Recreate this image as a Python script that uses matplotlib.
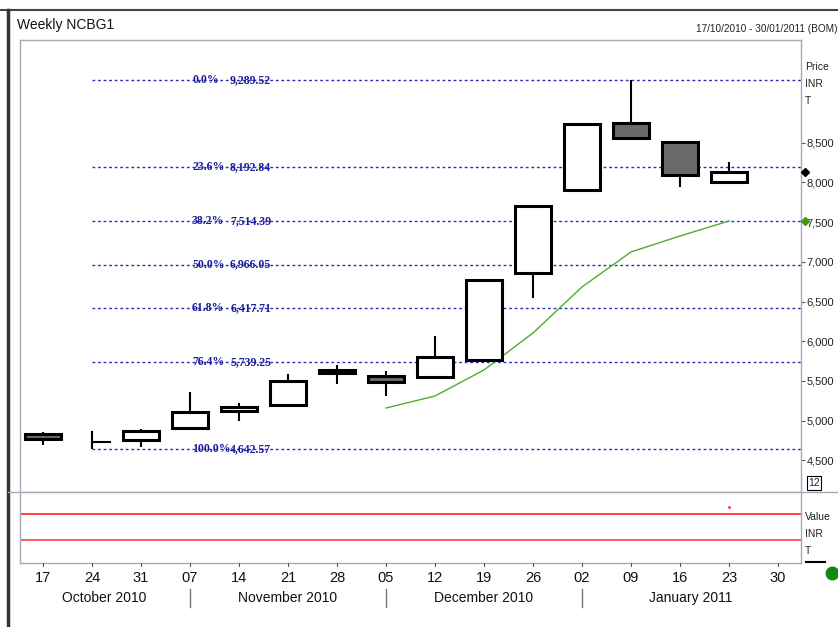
import matplotlib
matplotlib.use('Agg')
import matplotlib.pyplot as plt
from matplotlib.patches import Rectangle
from matplotlib.lines import Line2D

# ---------------- data ----------------
week_labels = ['17', '24', '31', '07', '14', '21', '28', '05', '12', '19', '26', '02', '09', '16', '23', '30']
month_labels = ['October 2010', 'November 2010', 'December 2010', 'January 2011']
month_pos = [1.245, 5.0, 9.0, 13.22]
month_sep = [3, 7, 11]

opens = [4832, 4731, 4756, 4907, 5121, 5197, 5600, 5562, 5549, 5763, 6859, 7904, 8748, 8509, 8005]
highs = [4857, 4857, 4894, 5361, 5222, 5587, 5701, 5625, 6066, 6771, 7703, 8735, 9289.52, 8509, 8257]
lows = [4693, 4655, 4668, 4907, 4995, 5197, 5461, 5310, 5549, 5763, 6544, 7904, 8547, 7942, 8005]
closes = [4769, 4731, 4869, 5109, 5172, 5499, 5637, 5486, 5801, 6771, 7703, 8735, 8559, 8093, 8131]

ma_x = [7, 8, 9, 10, 11, 12, 13, 14]
ma_vals = [5159, 5310, 5638, 6104, 6683, 7124, 7325, 7514]

fib_pct = ['0.0%', '23.6%', '38.2%', '50.0%', '61.8%', '76.4%', '100.0%']
fib_vals = [9289.52, 8192.84, 7514.39, 6966.05, 6417.71, 5739.25, 4642.57]

price_ticks = [4500, 5000, 5500, 6000, 6500, 7000, 7500, 8000, 8500]

# ---------------- figure ----------------
W, H = 838, 627
fig = plt.figure(figsize=(W / 100, H / 100), dpi=100)
fig.patch.set_facecolor('white')

FONT = ['Liberation Sans Narrow', 'Liberation Sans', 'DejaVu Sans']
SERIF = ['Liberation Serif', 'DejaVu Serif']

def fx(px):
    return px / W

def fy(py):
    return 1 - py / H

L, R = 20, 801
T1, B1 = 40, 492
B2 = 563
ax = fig.add_axes([fx(L), fy(B1), fx(R) - fx(L), fy(T1) - fy(B1)])
ax2 = fig.add_axes([fx(L), fy(B2), fx(R) - fx(L), fy(B1) - fy(B2)])

xmin, xmax = (L - 43) / 49.0, (R - 43) / 49.0
spine_c = '#a8a8b8'
for a in (ax, ax2):
    a.set_xlim(xmin, xmax)
    for s in a.spines.values():
        s.set_color(spine_c)
        s.set_linewidth(1)
    a.set_xticks([])

# price scale
ppx = 12.593
ax.set_ylim(9289.52 - (B1 - 80) * ppx, 9289.52 + (80 - T1) * ppx)
ax.yaxis.tick_right()
ax.set_yticks(price_ticks)
ax.set_yticklabels([f'{v:,}' for v in price_ticks], fontfamily=FONT, fontsize=8)
ax.tick_params(axis='y', length=3, width=0.8, color='#555555', pad=1, labelcolor='#222222')

# fib lines
fib_c = '#2e2eb0'
for p, v in zip(fib_pct, fib_vals):
    ax.plot([1, xmax], [v, v], color=fib_c, lw=1, ls=(0, (2, 2)), zorder=1)
    ax.text((192 - 43) / 49.0, v, p, color='#1c1c9c', fontfamily=SERIF, fontweight='bold',
            fontsize=8.5, va='center', ha='left', zorder=2)
    ax.text((271 - 43) / 49.0, v, f'{v:,.2f}', color='#1c1c9c', fontfamily=SERIF, fontweight='bold',
            fontsize=8.5, va='center', ha='right', zorder=2)

# moving average
ax.plot(ma_x, ma_vals, color='#4caf28', lw=1, zorder=3)

# candles
w = 0.74
for i, (o, h, l, c) in enumerate(zip(opens, highs, lows, closes)):
    top, bot = max(o, c), min(o, c)
    if o == c:
        ax.plot([i, i], [l, h], color='black', lw=1.5, zorder=4)
        ax.plot([i, i + w / 2], [o, o], color='black', lw=1.5, zorder=4)
        continue
    ax.plot([i, i], [top, h], color='black', lw=1.5, zorder=4, solid_capstyle='butt')
    ax.plot([i, i], [l, bot], color='black', lw=1.5, zorder=4, solid_capstyle='butt')
    fc = 'white' if c > o else '#6a6a6a'
    ax.add_patch(Rectangle((i - w / 2, bot), w, top - bot, facecolor=fc, edgecolor='black',
                           lw=2.2, zorder=5, joinstyle='miter'))

# diamonds on right axis
dx = (805 - 43) / 49.0
ax.plot([dx], [closes[-1]], marker='D', ms=4.5, color='black', clip_on=False, zorder=6)
ax.plot([dx], [ma_vals[-1]], marker='D', ms=4.5, color='#3a9a10', clip_on=False, zorder=6)

# lower panel
ax2.set_ylim(0, 1)
ax2.set_yticks([])
ax2.axhline((B2 - 514) / (B2 - B1), color='#ff2020', lw=1.2)
ax2.axhline((B2 - 540) / (B2 - B1), color='#ff4040', lw=1.2)
ax2.plot([(729 - 43) / 49.0], [(B2 - 507) / (B2 - B1)], marker='s', ms=1, color='#ff4040')
ax2.spines['top'].set_visible(False)

# x labels
for i, lab in enumerate(week_labels):
    xp = 43 + 49 * i
    fig.add_artist(Line2D([fx(xp), fx(xp)], [fy(B2), fy(B2 + 3)], color='#555555', lw=0.8))
    fig.text(fx(xp), fy(578), lab, fontfamily=FONT, fontsize=10.5, ha='center', va='center', color='#111111')
for pos, lab in zip(month_pos, month_labels):
    fig.text(fx(43 + 49 * pos), fy(598), lab, fontfamily=FONT, fontsize=10, ha='center', va='center', color='#111111')
for s in month_sep:
    xp = 43 + 49 * s
    fig.add_artist(Line2D([fx(xp), fx(xp)], [fy(589), fy(607)], color='#777777', lw=1))

# frame and header
fig.add_artist(Line2D([0, 1], [fy(10), fy(10)], color='#444444', lw=1.5))
fig.add_artist(Line2D([fx(8), fx(8)], [fy(10), 0], color='#333333', lw=2.5))
fig.add_artist(Line2D([fx(8), 1], [fy(B1), fy(B1)], color=spine_c, lw=1))
fig.text(fx(17), fy(25), 'Weekly NCBG1', fontfamily=FONT, fontsize=10, ha='left', va='center', color='#111111')
fig.text(fx(837), fy(29), '17/10/2010 - 30/01/2011 (BOM)', fontfamily=FONT, fontsize=7.2,
         ha='right', va='center', color='#222222')

# right side labels
for t, yp in zip(['Price', 'INR', 'T'], [67, 84, 101]):
    fig.text(fx(805), fy(yp), t, fontfamily=FONT, fontsize=7.5, ha='left', va='center', color='#222222')
for t, yp in zip(['Value', 'INR', 'T'], [517, 534, 551]):
    fig.text(fx(805), fy(yp), t, fontfamily=FONT, fontsize=7.5, ha='left', va='center', color='#222222')
fig.add_artist(Line2D([fx(806), fx(825)], [fy(562), fy(562)], color='black', lw=1.5))
fig.text(fx(814), fy(483), '12', fontfamily=FONT, fontsize=7.5, ha='center', va='center', color='#222222',
         bbox=dict(boxstyle='square,pad=0.15', fc='white', ec='black', lw=0.8))
fig.add_artist(Line2D([fx(832)], [fy(573)], marker='o', ms=9, color='#118811', mec='#118811'))

fig.savefig('out.png', dpi=100, facecolor='white')
